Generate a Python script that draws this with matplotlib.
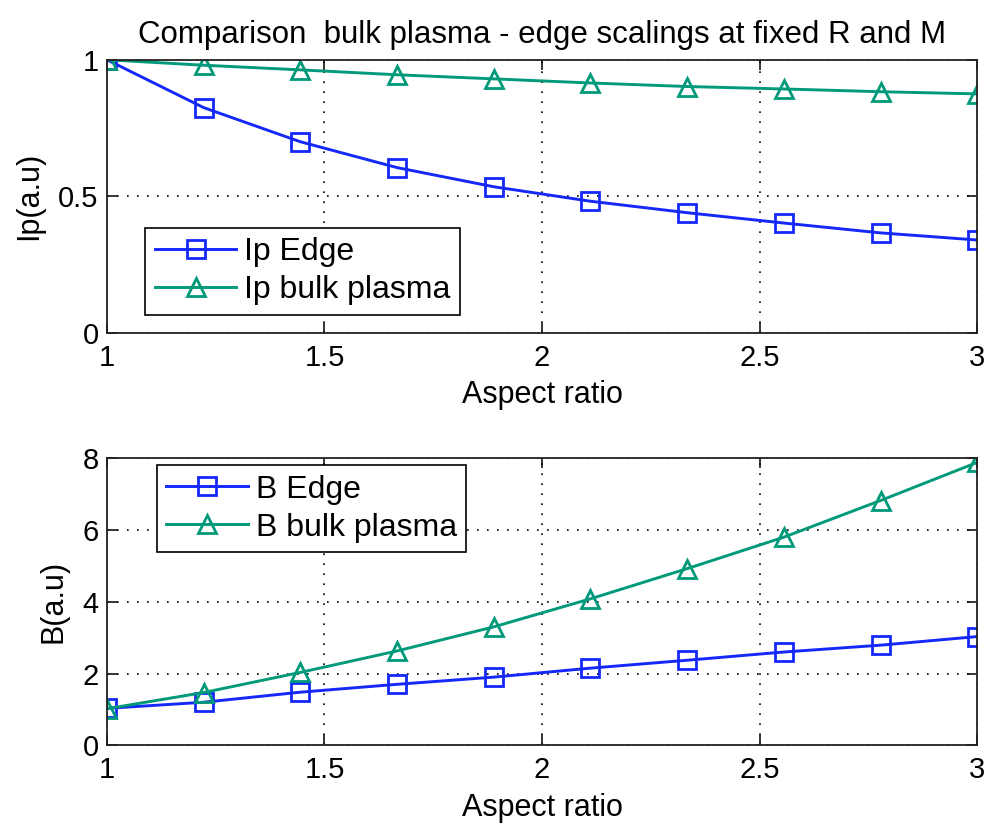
import numpy as np
import matplotlib
matplotlib.use("Agg")
import matplotlib.pyplot as plt

plt.rcParams['font.family'] = ['Liberation Sans', 'DejaVu Sans']

# aspect ratio samples
aspect = [1.0, 1.222, 1.444, 1.667, 1.889, 2.111, 2.333, 2.556, 2.778, 3.0]

# plasma current (a.u.)
ip_edge = [1.0, 0.825, 0.70, 0.605, 0.535, 0.482, 0.44, 0.402, 0.366, 0.34]
ip_bulk = [1.0, 0.98, 0.963, 0.945, 0.93, 0.915, 0.902, 0.893, 0.883, 0.875]

# magnetic field (a.u.)
b_edge = [1.03, 1.2, 1.48, 1.7, 1.9, 2.15, 2.37, 2.6, 2.79, 3.03]
b_bulk = [1.02, 1.47, 2.03, 2.63, 3.3, 4.08, 4.92, 5.8, 6.82, 7.88]

blue = '#1428fa'
green = '#00997a'

fig = plt.figure(figsize=(9.9, 8.3), dpi=100)
ax1 = fig.add_axes([0.108, 0.599, 0.879, 0.329])
ax2 = fig.add_axes([0.108, 0.102, 0.879, 0.346])

style = dict(lw=2.1, markersize=13, markerfacecolor='none', markeredgewidth=2.0)
legend_kw = dict(fontsize=23, handlelength=2.55, handletextpad=0.25, fancybox=False,
                 framealpha=1, borderaxespad=0, borderpad=0.3, labelspacing=0.25)

def matlab_axes(ax):
    ax.grid(True, color='black', linestyle=(0, (1, 5)), linewidth=1.2)
    ax.tick_params(direction='in', top=True, right=True, labelsize=21, length=7, width=1.1)
    ax.tick_params(axis='x', pad=8)
    ax.tick_params(axis='y', pad=6)
    for s in ax.spines.values():
        s.set_linewidth(1.3)
        s.set_color('#222222')
    ax.set_xlim(1, 3)
    ax.set_xticks([1, 1.5, 2, 2.5, 3])
    ax.set_xticklabels(['1', '1.5', '2', '2.5', '3'])
    ax.set_xlabel('Aspect ratio', fontsize=22, labelpad=6)

ax1.plot(aspect, ip_edge, color=blue, marker='s', label='Ip Edge', **style)
ax1.plot(aspect, ip_bulk, color=green, marker='^', label='Ip bulk plasma', **style)
matlab_axes(ax1)
ax1.set_ylim(0, 1)
ax1.set_yticks([0, 0.5, 1])
ax1.set_yticklabels(['0', '0.5', '1'])
ax1.set_ylabel('Ip(a.u)', fontsize=22, labelpad=10)
ax1.set_title('Comparison  bulk plasma - edge scalings at fixed R and M', fontsize=22.5, pad=12)
leg1 = ax1.legend(loc='lower left', bbox_to_anchor=(0.044, 0.066), **legend_kw)
leg1.get_frame().set_edgecolor('black')
leg1.get_frame().set_linewidth(1.2)

ax2.plot(aspect, b_edge, color=blue, marker='s', label='B Edge', **style)
ax2.plot(aspect, b_bulk, color=green, marker='^', label='B bulk plasma', **style)
matlab_axes(ax2)
ax2.set_ylim(0, 8)
ax2.set_yticks([0, 2, 4, 6, 8])
ax2.set_ylabel('B(a.u)', fontsize=22, labelpad=10)
leg2 = ax2.legend(loc='upper left', bbox_to_anchor=(0.057, 0.976), **legend_kw)
leg2.get_frame().set_edgecolor('black')
leg2.get_frame().set_linewidth(1.2)

fig.savefig('out.png', dpi=100)
